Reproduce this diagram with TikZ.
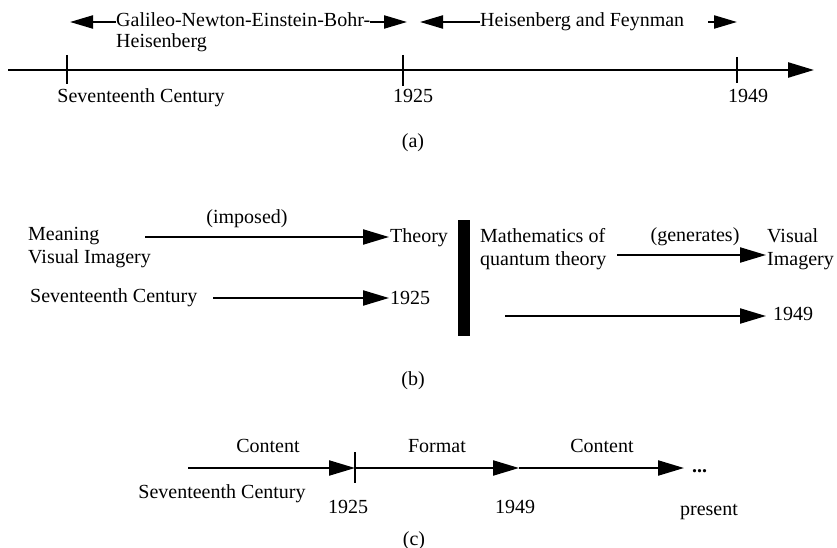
\documentclass[tikz,border=0pt]{standalone}
\usepackage{fontspec}
\setmainfont{Liberation Serif}
\usetikzlibrary{arrows.meta}
\begin{document}
\begin{tikzpicture}[x=1pt,y=-1pt,
  txt/.style={inner sep=0pt, font=\fontsize{20}{23}\selectfont, text height=14pt, text depth=4pt},
  arr/.style={line width=2.2pt, -{Triangle[length=26pt,width=15pt]}},
  sarr/.style={line width=2.2pt, -{Triangle[length=23pt,width=13pt]}},
  larr/.style={line width=2.2pt, {Triangle[length=23pt,width=13pt]}-},
  tickl/.style={line width=2.2pt}]
\useasboundingbox (0,0) rectangle (837,548);

% ---------- (a) ----------
\coordinate (a0) at (8,70);
\coordinate (a1) at (814,70);
\draw[arr, line width=2.5pt] (a0) -- (a1);
\coordinate (k1t) at (67,55);  \coordinate (k1b) at (67,84);
\coordinate (k2t) at (403,55); \coordinate (k2b) at (403,86);
\coordinate (k3t) at (737,57); \coordinate (k3b) at (737,83);
\draw[tickl] (k1t) -- (k1b);
\draw[tickl] (k2t) -- (k2b);
\draw[tickl] (k3t) -- (k3b);
\node[txt] (s17a) at (141,98) {Seventeenth Century};
\node[txt] (y1925a) at (413,98) {1925};
\node[txt] (y1949a) at (748,98) {1949};
\node[txt] (la) at (413,143) {(a)};

\node[txt, anchor=west] (gal1) at (116,22) {Galileo-Newton-Einstein-Bohr-};
\node[txt, anchor=west] (gal2) at (116,43) {Heisenberg};
\coordinate (galL) at (70,22);
\coordinate (galR) at (407,22);
\draw[larr] (galL) -- (gal1.west);
\draw[sarr] (gal1.east) -- (galR);

\node[txt, anchor=west] (hf) at (480,22) {Heisenberg and Feynman};
\coordinate (hfL) at (420,22);
\coordinate (hfa) at (708,22);
\coordinate (hfb) at (737,22);
\draw[larr] (hfL) -- (hf.west);
\draw[sarr] (hfa) -- (hfb);

% ---------- (b) ----------
\node[txt, anchor=west] (mean) at (28,235) {Meaning};
\node[txt, anchor=west] (visimg) at (28,258) {Visual Imagery};
\node[txt, anchor=west] (theory) at (390,237) {Theory};
\coordinate (imp0) at (145,237);
\coordinate (imp1) at (389,237);
\draw[arr] (imp0) -- (imp1);
\node[txt] (imposed) at (247,218) {(imposed)};

\node[fill=black, inner sep=0pt, minimum width=12pt, minimum height=116pt] (bar) at (464,278) {};

\node[txt, anchor=west] (math1) at (480,237) {Mathematics of};
\node[txt, anchor=west] (math2) at (480,260) {quantum theory};
\node[txt, anchor=west] (vis1) at (767,237) {Visual};
\node[txt, anchor=west] (vis2) at (767,260) {Imagery};
\coordinate (gen0) at (617,255);
\coordinate (gen1) at (766,255);
\draw[arr] (gen0) -- (gen1);
\node[txt] (generates) at (695,236) {(generates)};

\node[txt, anchor=west] (s17b) at (30,297) {Seventeenth Century};
\node[txt, anchor=west] (y1925b) at (390,299) {1925};
\coordinate (sb0) at (213,298);
\coordinate (sb1) at (389,298);
\draw[arr] (sb0) -- (sb1);

\node[txt, anchor=west] (y1949b) at (773,315) {1949};
\coordinate (qb0) at (505,316);
\coordinate (qb1) at (766,316);
\draw[arr] (qb0) -- (qb1);
\node[txt] (lb) at (413,380) {(b)};

% ---------- (c) ----------
\coordinate (c0) at (188,468);
\coordinate (c1) at (355,468);
\coordinate (c2) at (519,468);
\coordinate (c3) at (684,468);
\draw[arr] (c0) -- (c1);
\draw[arr] (c1) -- (c2);
\draw[arr] (c2) -- (c3);
\coordinate (ct) at (355,452);
\coordinate (cb) at (355,483);
\draw[tickl] (ct) -- (cb);
\node[txt, anchor=west] (dots) at (692,467) {\textbf{...}};
\node[txt] (cont1) at (268,447) {Content};
\node[txt] (form) at (437,447) {Format};
\node[txt] (cont2) at (602,447) {Content};
\node[txt] (s17c) at (222,493) {Seventeenth Century};
\node[txt] (y1925c) at (348,508) {1925};
\node[txt] (y1949c) at (515,508) {1949};
\node[txt] (pres) at (709,510) {present};
\node[txt] (lc) at (414,540) {(c)};
\end{tikzpicture}
\end{document}
